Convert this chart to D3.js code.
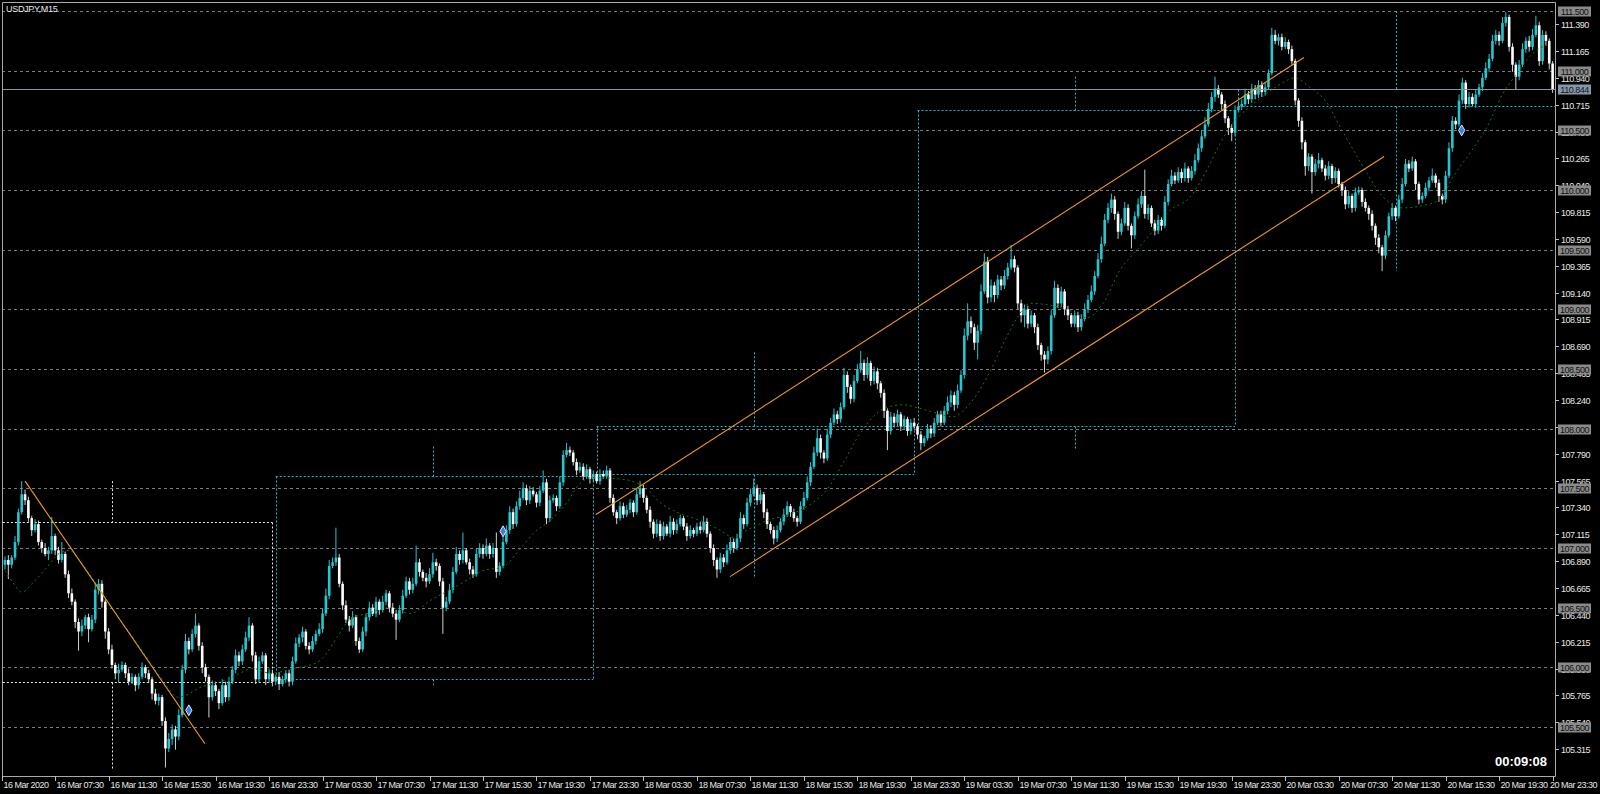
<!DOCTYPE html>
<html><head><meta charset="utf-8">
<script src="https://cdn.jsdelivr.net/npm/d3@7/dist/d3.min.js"></script>
<style>html,body{margin:0;padding:0;background:#000;overflow:hidden}</style>
</head><body><svg id="c" width="1600" height="794"></svg>
<script>
// ---------- DATA ----------
const symbolTitle = "USDJPY,M15";
const timerText = "00:09:08";
const firstOpen = 106.86;
const closes = [
106.90,106.86,106.92,107.05,107.30,107.45,107.40,107.25,107.15,107.20,
107.05,107.00,106.95,106.98,107.10,106.98,106.90,106.95,106.78,106.62,
106.55,106.38,106.30,106.35,106.42,106.32,106.40,106.65,106.70,106.55,
106.30,106.15,106.02,105.95,105.98,106.02,105.95,105.88,105.92,105.85,
105.92,106.00,105.95,105.90,105.78,105.72,105.75,105.55,105.32,105.40,
105.48,105.42,105.60,105.98,106.22,106.15,106.28,106.35,106.18,106.00,
105.92,105.75,105.85,105.80,105.70,105.85,105.75,105.88,105.98,106.10,
106.05,106.15,106.25,106.35,106.10,105.90,106.05,106.10,105.90,105.95,
105.88,105.92,105.86,105.90,105.95,105.88,106.05,106.20,106.25,106.30,
106.18,106.15,106.22,106.28,106.32,106.45,106.60,106.85,106.88,106.92,
106.70,106.52,106.40,106.35,106.42,106.22,106.15,106.30,106.42,106.50,
106.45,106.55,106.48,106.55,106.62,106.50,106.45,106.40,106.48,106.60,
106.72,106.65,106.70,106.88,106.80,106.75,106.72,106.78,106.88,106.85,
106.72,106.50,106.55,106.65,106.80,106.95,106.90,106.98,106.88,106.82,
106.78,106.95,107.00,106.95,107.02,106.95,107.00,106.80,106.85,107.05,
107.15,107.30,107.20,107.35,107.42,107.50,107.40,107.48,107.45,107.38,
107.48,107.55,107.25,107.40,107.42,107.35,107.55,107.78,107.82,107.80,
107.72,107.65,107.68,107.60,107.66,107.58,107.62,107.56,107.62,107.60,
107.65,107.42,107.30,107.25,107.35,107.28,107.32,107.38,107.30,107.45,
107.50,107.42,107.32,107.22,107.12,107.20,107.10,107.18,107.12,107.22,
107.15,107.20,107.25,107.18,107.10,107.15,107.12,107.18,107.15,107.22,
107.12,107.00,106.90,106.82,106.92,106.88,106.98,107.05,107.00,107.08,
107.25,107.20,107.38,107.45,107.50,107.40,107.45,107.30,107.20,107.15,
107.08,107.15,107.22,107.28,107.35,107.30,107.25,107.22,107.35,107.42,
107.55,107.68,107.80,107.92,107.80,107.75,107.95,108.05,108.12,108.08,
108.18,108.45,108.35,108.25,108.40,108.50,108.55,108.45,108.55,108.40,
108.48,108.38,108.30,108.15,107.98,108.10,108.05,108.12,108.02,108.08,
107.98,108.05,108.02,107.95,107.88,107.92,108.00,107.96,108.05,108.12,
108.05,108.15,108.22,108.28,108.20,108.32,108.45,108.78,108.90,108.85,
108.72,108.82,109.15,109.40,109.10,109.20,109.12,109.25,109.20,109.28,
109.35,109.42,109.35,109.05,108.95,109.00,108.88,108.95,108.85,108.70,
108.62,108.58,108.65,108.95,109.18,109.05,109.15,109.00,108.95,108.88,
108.95,108.85,108.92,109.00,109.08,109.15,109.28,109.42,109.55,109.75,
109.85,109.92,109.80,109.65,109.72,109.85,109.70,109.62,109.78,109.88,
109.95,109.80,109.85,109.72,109.66,109.75,109.70,109.90,110.05,110.12,
110.08,110.15,110.10,110.18,110.10,110.16,110.25,110.35,110.45,110.55,
110.68,110.78,110.85,110.80,110.72,110.60,110.52,110.48,110.67,110.70,
110.72,110.80,110.76,110.85,110.80,110.88,110.82,110.86,110.98,111.30,
111.25,111.28,111.20,111.24,111.18,111.08,110.75,110.58,110.40,110.20,
110.28,110.15,110.22,110.25,110.18,110.12,110.20,110.10,110.16,110.05,
110.00,109.88,109.95,109.85,109.98,110.00,109.90,109.85,109.80,109.70,
109.60,109.52,109.45,109.62,109.78,109.85,109.78,109.92,110.05,110.22,
110.18,110.24,110.05,109.92,109.95,110.02,110.08,110.12,110.06,109.95,
109.92,110.12,110.35,110.58,110.55,110.75,110.90,110.72,110.78,110.72,
110.80,110.86,110.94,111.02,111.10,111.25,111.30,111.25,111.40,111.45,
111.20,111.05,110.95,111.05,111.18,111.25,111.20,111.30,111.38,111.08,
111.30,111.25,111.06,110.844];
// upper / lower shadow lengths in 0.01 yen
const upperWick = [
3,4,2,5,3,11,4,3,2,4, 3,2,4,3,16,2,3,10,2,3, 4,2,3,5,2,3,4,6,4,3, 2,3,4,2,5,3,2,4,3,2,
3,4,2,3,2,4,3,2,3,5, 4,3,5,4,6,3,4,10,2,3, 3,2,4,3,2,5,3,4,3,5, 3,4,5,7,2,3,4,3,2,4,
3,2,4,3,2,3,4,5,3,4, 2,3,4,3,5,4,6,5,4,25, 3,2,4,3,5,2,3,4,3,5, 3,4,2,5,3,2,4,3,4,5,
4,3,5,14,3,2,4,5,8,3, 2,3,4,5,4,6,3,15,2,3, 3,5,4,3,6,2,4,13,3,5, 4,5,3,4,6,5,3,4,3,2,
4,10,3,4,3,2,5,4,6,3, 2,3,4,3,4,2,3,2,4,3, 4,2,3,2,4,3,4,3,2,5, 6,3,2,3,2,4,3,4,2,5,
3,4,3,2,3,4,2,3,4,5, 3,2,3,2,4,3,5,4,3,4, 5,3,4,5,8,3,4,2,3,2, 3,4,3,5,4,2,3,2,4,5,
5,4,5,8,3,2,5,4,5,3, 4,6,3,2,5,4,10,3,5,2, 4,3,2,3,2,4,3,4,2,3, 2,3,4,2,3,2,4,3,4,3,
3,4,5,4,3,5,4,6,15,4, 3,5,6,7,4,5,3,4,3,5, 4,12,3,2,3,4,3,4,2,3, 2,3,4,5,6,3,4,2,3,2,
4,3,4,5,4,5,4,5,6,5, 4,5,3,2,4,5,3,2,4,5, 4,22,3,2,3,4,2,5,4,5, 3,4,3,5,2,4,5,4,5,6,
5,4,10,3,2,3,2,3,4,3, 4,5,3,4,3,4,3,4,3,6, 4,3,3,4,2,3,2,2,3,2, 3,2,4,6,2,3,4,2,3,2,
2,3,4,2,4,3,2,3,2,3, 2,3,2,4,3,4,2,4,5,4, 3,4,2,2,3,4,3,6,2,3, 2,4,5,4,3,5,4,2,4,3,
4,3,4,5,4,5,4,3,5,4, 2,3,2,4,5,3,4,5,8,3, 4,3,2,2];
const lowerWick = [
4,12,3,2,3,2,4,3,5,2, 3,4,2,5,3,4,3,2,3,4, 3,5,16,4,3,11,2,3,4,5, 6,4,3,5,8,2,4,3,2,5,
3,2,4,3,5,3,4,4,16,3, 5,11,3,2,3,4,2,3,4,5, 4,17,3,4,5,2,4,3,2,3, 4,3,2,3,5,4,3,2,5,3,
4,3,5,2,3,4,3,2,3,4, 3,4,2,3,2,3,2,3,2,3, 3,4,3,5,2,4,3,2,4,3, 2,3,4,2,3,4,3,17,2,3,
2,4,3,2,4,3,5,2,3,4, 4,22,3,2,3,2,4,3,2,4, 3,2,3,4,2,4,3,5,3,2, 2,3,4,2,3,2,4,3,2,4,
3,2,5,3,2,4,2,3,2,3, 3,4,2,3,2,4,3,2,3,2, 2,4,3,5,2,3,2,3,4,2, 3,4,3,5,4,3,4,3,2,3,
4,3,2,3,4,2,3,2,3,2, 3,4,5,7,3,4,2,3,4,2, 3,4,2,3,2,4,3,5,4,3, 5,3,2,3,2,4,3,4,2,3,
2,3,2,3,5,4,2,3,2,4, 3,2,5,4,3,2,3,5,3,4, 3,5,4,6,16,3,4,3,4,3, 4,3,2,4,6,3,2,4,3,2,
3,2,3,4,5,3,2,3,4,5, 6,14,3,2,5,4,6,3,4,3, 3,2,4,5,6,10,4,3,5,4, 5,11,4,3,2,4,3,5,4,3,
3,4,3,2,3,2,3,2,3,2, 3,4,5,6,3,2,4,11,3,2, 3,4,5,3,4,3,4,2,3,2, 3,2,4,3,4,2,3,2,3,2,
2,3,4,3,5,4,6,7,3,2, 3,2,4,3,4,3,4,3,2,2, 3,4,3,2,4,3,4,5,6,8, 4,18,3,4,3,4,3,5,4,3,
5,4,3,4,3,2,4,3,5,4, 6,5,13,3,2,3,4,2,3,2, 3,2,5,4,3,2,3,2,4,5, 4,3,2,3,4,2,3,4,3,2,
3,2,3,2,3,2,3,4,2,3, 4,6,11,3,2,3,4,3,2,4, 3,4,5,3];
// price axis
const priceTicks = ["111.390","111.165","110.940","110.715","110.490","110.265","110.040","109.815","109.590","109.365","109.140","108.915","108.690","108.465","108.240","108.015","107.790","107.565","107.340","107.115","106.890","106.665","106.440","106.215","105.990","105.765","105.540","105.315"];
const levelPrices = [111.5,111.0,110.5,110.0,109.5,109.0,108.5,108.0,107.5,107.0,106.5,106.0,105.5];
const bidPrice = 110.844;
// time axis (bar index of each label)
const timeLabels = ["16 Mar 2020","16 Mar 07:30","16 Mar 11:30","16 Mar 15:30","16 Mar 19:30","16 Mar 23:30","17 Mar 03:30","17 Mar 07:30","17 Mar 11:30","17 Mar 15:30","17 Mar 19:30","17 Mar 23:30","18 Mar 03:30","18 Mar 07:30","18 Mar 11:30","18 Mar 15:30","18 Mar 19:30","18 Mar 23:30","19 Mar 03:30","19 Mar 07:30","19 Mar 11:30","19 Mar 15:30","19 Mar 19:30","19 Mar 23:30","20 Mar 03:30","20 Mar 07:30","20 Mar 11:30","20 Mar 15:30","20 Mar 19:30","20 Mar 23:30"];
const timeIdx = [0,15,31,47,63,79,95,111,127,143,159,175,191,207,223,239,255,271,287,303,319,335,351,367,383,399,415,431,447,463];
// daily candles overlay
const dayStart = [-15,81,177,273,369];
const dayOpen  = [107.22,105.90,107.62,108.02,110.70];
const dayHigh  = [107.56,107.85,108.64,110.95,111.50];
const dayLow   = [105.14,105.85,106.76,107.82,109.32];
const dayClose = [105.88,107.60,108.02,110.67,110.844];
// trend lines [barIndex, price]
const trendLines = [
  [[6.0,107.56],[59.8,105.36]],
  [[176.8,107.28],[388.6,111.11]],
  [[216.9,106.76],[412.6,110.28]]
];
// moving average samples [barIndex, price]
const maIdx = [0,2.4,5.1,8.4,12.6,16.5,19.4,21.5,28.4,32.3,38.3,43.4,48.5,51.5,54.5,58.3,63.4,68.2,74.2,79.3,86.2,93.3,96.3,99.3,103.2,108.3,115.2,121.2,127.2,133.1,138.2,143,149,153.2,158,163,168.1,172,175.9,186.1,192.1,196,201,207.9,213.9,217.8,222,228,235.8,241.7,245.9,250.7,255.8,261.8,263.9,268.7,273.7,278.8,283.6,288.7,293.8,298.6,302.8,306.7,313.5,318.6,323.7,328.5,333.6,338.7,343.5,348.6,354.5,359.6,363.5,367.4,372.5,377.6,382.3,385.9,390.4,395.5,399.4,403.3,407.5,411.4,418.3,424.2,429.3,433.2,438.3,443.4,448.2,452.4,456.2,461.3];
const maVal = [106.81,106.71,106.63,106.71,106.84,106.96,106.98,106.92,106.65,106.48,106.25,106.04,105.84,105.75,105.77,105.83,105.87,105.92,105.99,105.95,105.99,106.04,106.12,106.25,106.40,106.45,106.50,106.45,106.56,106.65,106.73,106.81,106.84,106.96,107.12,107.23,107.38,107.54,107.59,107.57,107.49,107.38,107.30,107.23,107.15,107.09,107.15,107.23,107.29,107.38,107.49,107.71,107.96,108.15,108.18,108.20,108.17,108.13,108.10,108.21,108.43,108.71,108.93,109.05,109.03,108.99,108.93,109.05,109.33,109.50,109.66,109.83,109.94,110.17,110.39,110.56,110.70,110.81,110.90,110.94,110.86,110.73,110.53,110.34,110.14,109.97,109.85,109.87,109.92,110.11,110.31,110.53,110.81,110.98,111.12,111.22];
// trade markers
const markIdx = [55,149,435.8];
const markPrice = [105.64,107.14,110.50];

// ---------- DRAW ----------
const svg = d3.select("#c");
const P = {l:2,t:2,r:1555,b:776};
const x = d3.scaleLinear().domain([0,463]).range([5,1552.6]);
const y = d3.scaleLinear().domain([105.5,111.5]).range([727,11]);
const BULL="#26c6cf", BEAR="#ffffff", CYAN="#1fb8c8";
const FONT="'Liberation Sans', Arial, sans-serif";

svg.append("rect").attr("width",1600).attr("height",794).attr("fill","#000");
svg.append("defs").append("clipPath").attr("id","pc").append("rect")
  .attr("x",P.l).attr("y",P.t).attr("width",P.r-P.l).attr("height",P.b-P.t);
const g = svg.append("g").attr("clip-path","url(#pc)");

// level lines
g.selectAll(".lvl").data(levelPrices).enter().append("line")
  .attr("x1",P.l).attr("x2",P.r).attr("y1",d=>Math.round(y(d))+0.5).attr("y2",d=>Math.round(y(d))+0.5)
  .attr("stroke","#7a7a7a").attr("stroke-width",1).attr("stroke-dasharray","3,3");

// daily candles
const days = dayStart.map((s,k)=>({s,o:dayOpen[k],h:dayHigh[k],l:dayLow[k],c:dayClose[k]}));
days.forEach(d=>{
  const col = d.c>=d.o ? CYAN : "#e8e8e8";
  const x0 = x(d.s), x1 = x(d.s+95), xc = Math.round(x(d.s+47))+0.5;
  const yt = Math.round(y(Math.max(d.o,d.c)))+0.5, yb = Math.round(y(Math.min(d.o,d.c)))+0.5;
  const st = {stroke:col,"stroke-width":1,"stroke-dasharray":"2,2",fill:"none"};
  const seg=(a,b,c,e)=>{const l=g.append("line").attr("x1",a).attr("y1",b).attr("x2",c).attr("y2",e);Object.entries(st).forEach(([k,v])=>l.attr(k,v));};
  seg(x0,yt,x1,yt); seg(x0,yb,x1,yb);
  seg(Math.round(x0)+0.5,yt,Math.round(x0)+0.5,yb); seg(Math.round(x1)+0.5,yt,Math.round(x1)+0.5,yb);
  seg(xc,y(d.h),xc,yt); seg(xc,yb,xc,y(d.l));
});

// candles
const bars = closes.map((c,i)=>{
  const o = i===0 ? firstOpen : closes[i-1];
  return {i,o,c,h:Math.max(o,c)+upperWick[i]/100,l:Math.min(o,c)-lowerWick[i]/100};
});
const cg = g.append("g");
cg.selectAll(".w").data(bars).enter().append("line")
  .attr("x1",d=>x(d.i)).attr("x2",d=>x(d.i)).attr("y1",d=>y(d.h)).attr("y2",d=>y(d.l))
  .attr("stroke",d=>d.c>=d.o?BULL:"#d0d0d0").attr("stroke-width",1);
cg.selectAll(".b").data(bars).enter().append("rect")
  .attr("x",d=>x(d.i)-1.3).attr("width",2.6)
  .attr("y",d=>y(Math.max(d.o,d.c))).attr("height",d=>Math.max(1,Math.abs(y(d.o)-y(d.c))))
  .attr("fill",d=>d.c>=d.o?BULL:BEAR);

// moving average
const maPts = maIdx.map((v,k)=>[v,maVal[k]]);
g.append("path").datum(maPts)
  .attr("d",d3.line().x(d=>x(d[0])).y(d=>y(d[1])).curve(d3.curveMonotoneX))
  .attr("fill","none").attr("stroke","#0e7a12").attr("stroke-width",1).attr("stroke-dasharray","2,3");

// trend lines
g.selectAll(".tl").data(trendLines).enter().append("line")
  .attr("x1",d=>x(d[0][0])).attr("y1",d=>y(d[0][1])).attr("x2",d=>x(d[1][0])).attr("y2",d=>y(d[1][1]))
  .attr("stroke","#f29b1e").attr("stroke-width",1.1);

// bid line
g.append("line").attr("x1",P.l).attr("x2",P.r).attr("y1",Math.round(y(bidPrice))+0.5).attr("y2",Math.round(y(bidPrice))+0.5)
  .attr("stroke","#8593a3").attr("stroke-width",1);

// markers
g.selectAll(".mk").data(markIdx.map((v,k)=>[v,markPrice[k]])).enter().append("path")
  .attr("d",d3.symbol().type(d3.symbolDiamond).size(34))
  .attr("transform",d=>`translate(${x(d[0])},${y(d[1])})`)
  .attr("fill","#3b7de0").attr("stroke","#dce8ff").attr("stroke-width",1);

// frame
svg.append("path").attr("d",`M${P.l+0.5},${P.t+0.5}H${P.r+0.5}V${P.b+0.5}H${P.l+0.5}Z`)
  .attr("fill","none").attr("stroke","#a9a9a9").attr("stroke-width",1);

// price axis
const ax = svg.append("g").attr("font-family",FONT).attr("font-size","9px").attr("letter-spacing","-0.5px").attr("fill","#e6e6e6");
priceTicks.forEach(t=>{
  const yy = Math.round(y(+t))+0.5;
  ax.append("line").attr("x1",P.r).attr("x2",P.r+4).attr("y1",yy).attr("y2",yy).attr("stroke","#bdbdbd");
  ax.append("text").attr("x",P.r+6).attr("y",yy+3.3).text(t);
});
levelPrices.forEach(v=>{
  const yy = Math.round(y(v));
  ax.append("rect").attr("x",1558).attr("y",yy-4.5).attr("width",33).attr("height",10).attr("fill","#8a8a8a");
  ax.append("text").attr("x",1574.5).attr("y",yy+3.5).attr("text-anchor","middle").attr("fill","#111111").text(v.toFixed(3));
});
{
  const yy = Math.round(y(bidPrice));
  ax.append("rect").attr("x",1558).attr("y",yy-4.5).attr("width",33).attr("height",10).attr("fill","#8797ab");
  ax.append("text").attr("x",1574.5).attr("y",yy+3.5).attr("text-anchor","middle").attr("fill","#0f1820").text(bidPrice.toFixed(3));
}

// time axis
const lastK = timeLabels.length-1;
timeLabels.forEach((t,k)=>{
  const xx = k===0 ? P.l+0.5 : Math.round(x(timeIdx[k]))+0.5;
  ax.append("line").attr("x1",xx).attr("x2",xx).attr("y1",P.b).attr("y2",P.b+5).attr("stroke","#bdbdbd");
  const tx = ax.append("text").attr("y",P.b+12).text(t);
  if (k===lastK) tx.attr("x",1597).attr("text-anchor","end");
  else tx.attr("x",xx+1);
});

// title & timer
svg.append("text").attr("x",6).attr("y",12).attr("font-family",FONT).attr("font-size","9px").attr("letter-spacing","-0.3px").attr("fill","#e6e6e6").text(symbolTitle);
svg.append("text").attr("x",1547).attr("y",766).attr("text-anchor","end").attr("font-family",FONT)
  .attr("font-size","13px").attr("font-weight","bold").attr("fill","#ffffff").text(timerText);
</script></body></html>
